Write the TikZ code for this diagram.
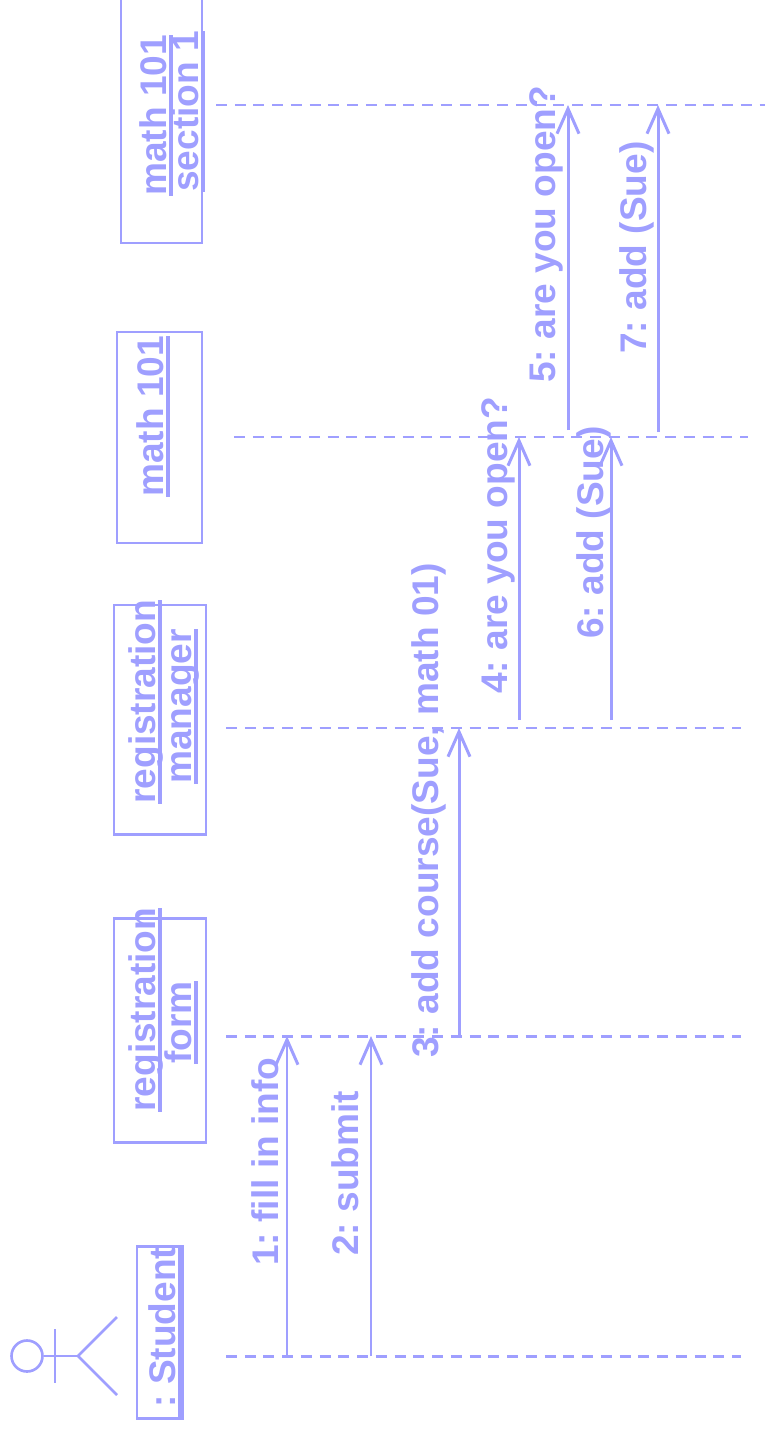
\documentclass[tikz,border=0pt]{standalone}
\usepackage{fontspec}
\setmainfont{Liberation Sans}
\usetikzlibrary{arrows.meta}
\definecolor{umlblue}{RGB}{159,159,255}
\newcommand{\ultext}[1]{\vtop{\hbox{\smash{#1}}\kern1.6pt\hrule height 2.4pt}}

\begin{document}
\begin{tikzpicture}[x=0.02cm, y=-0.02cm, font=\fontsize{21.1}{22}\selectfont\bfseries\frenchspacing,
    objbox/.style={draw=umlblue, line width=1.7pt},
    objtext/.style={text=umlblue, rotate=90, anchor=base west, inner sep=0pt},
    msgtext/.style={text=umlblue, rotate=90, anchor=base west, inner sep=0pt},
    lifeline/.style={draw=umlblue, line width=1.7pt, dash pattern=on 0.22cm off 0.155cm},
    message/.style={draw=umlblue, line width=1.7pt, -{Straight Barb[length=5mm, width=4.4mm]}},
    actorline/.style={draw=umlblue, line width=1.5pt},
  ]
  \useasboundingbox (0,0) rectangle (765,1432);

  % Object boxes, bottom to top.
  \draw[objbox] (137,1246) rectangle (183,1418);
  \node[objtext] (student) at (175,1418) {\ultext{\ : Student}};

  \draw[objbox] (114,918) rectangle (206,1142);
  \node[objtext] (regform1) at (155,1112) {\ultext{registration}};
  \node[objtext] (regform2) at (191,1064) {\ultext{form}};

  \draw[objbox] (114,605) rectangle (206,834);
  \node[objtext] (regman1) at (155,804) {\ultext{registration}};
  \node[objtext] (regman2) at (191,784) {\ultext{manager}};

  \draw[objbox] (117,332) rectangle (202,543);
  \node[objtext] (math) at (163,497) {\ultext{math 101}};

  \draw[objbox] (121,-4) rectangle (202,243);
  \node[objtext] (sec1) at (166,196) {\ultext{math 101}};
  \node[objtext] (sec2) at (198,192) {\ultext{section 1}};

  % Actor.
  \node[circle, actorline, minimum size=0.62cm, inner sep=0pt] (head) at (27,1356) {};
  \coordinate (hip) at (78,1356);
  \coordinate (armA) at (55,1329);
  \coordinate (armB) at (55,1383);
  \coordinate (footA) at (117,1317);
  \coordinate (footB) at (117,1395);
  \draw[actorline] (head) -- (hip);
  \draw[actorline] (armA) -- (armB);
  \draw[actorline] (footA) -- (hip) -- (footB);

  % Lifelines.
  \foreach \name/\y/\xa/\xb in {st/1356/226/741, fm/1036/226/741, mg/728/226/741,
      mt/437/234/748, sc/105/216/765} {
    \coordinate (\name A) at (\xa,\y);
    \coordinate (\name B) at (\xb,\y);
    \draw[lifeline] (\name A) -- (\name B);
  }

  % Messages: id / x / from / to.
  \foreach \name/\x/\ya/\yb in {1/287/1356/1036, 2/371/1356/1036, 3/459/1036/728,
      4/519/720/437, 5/568/430/105, 6/611/720/437, 7/658/432/105} {
    \coordinate (m\name A) at (\x,\ya);
    \coordinate (m\name B) at (\x,\yb);
    \draw[message] (m\name A) -- (m\name B);
  }

  % Message labels.
  \node[msgtext] (l1) at (278,1266) {1: fill in info};
  \node[msgtext] (l2) at (358,1256) {2: submit};
  \node[msgtext] (l3) at (438,1058) {3: add course(Sue, math 01)};
  \node[msgtext] (l4) at (507,694) {4: are you open?};
  \node[msgtext] (l5) at (555,383) {5: are you open?};
  \node[msgtext] (l6) at (603,639) {6: add (Sue)};
  \node[msgtext] (l7) at (646,354) {7: add (Sue)};
\end{tikzpicture}
\end{document}
